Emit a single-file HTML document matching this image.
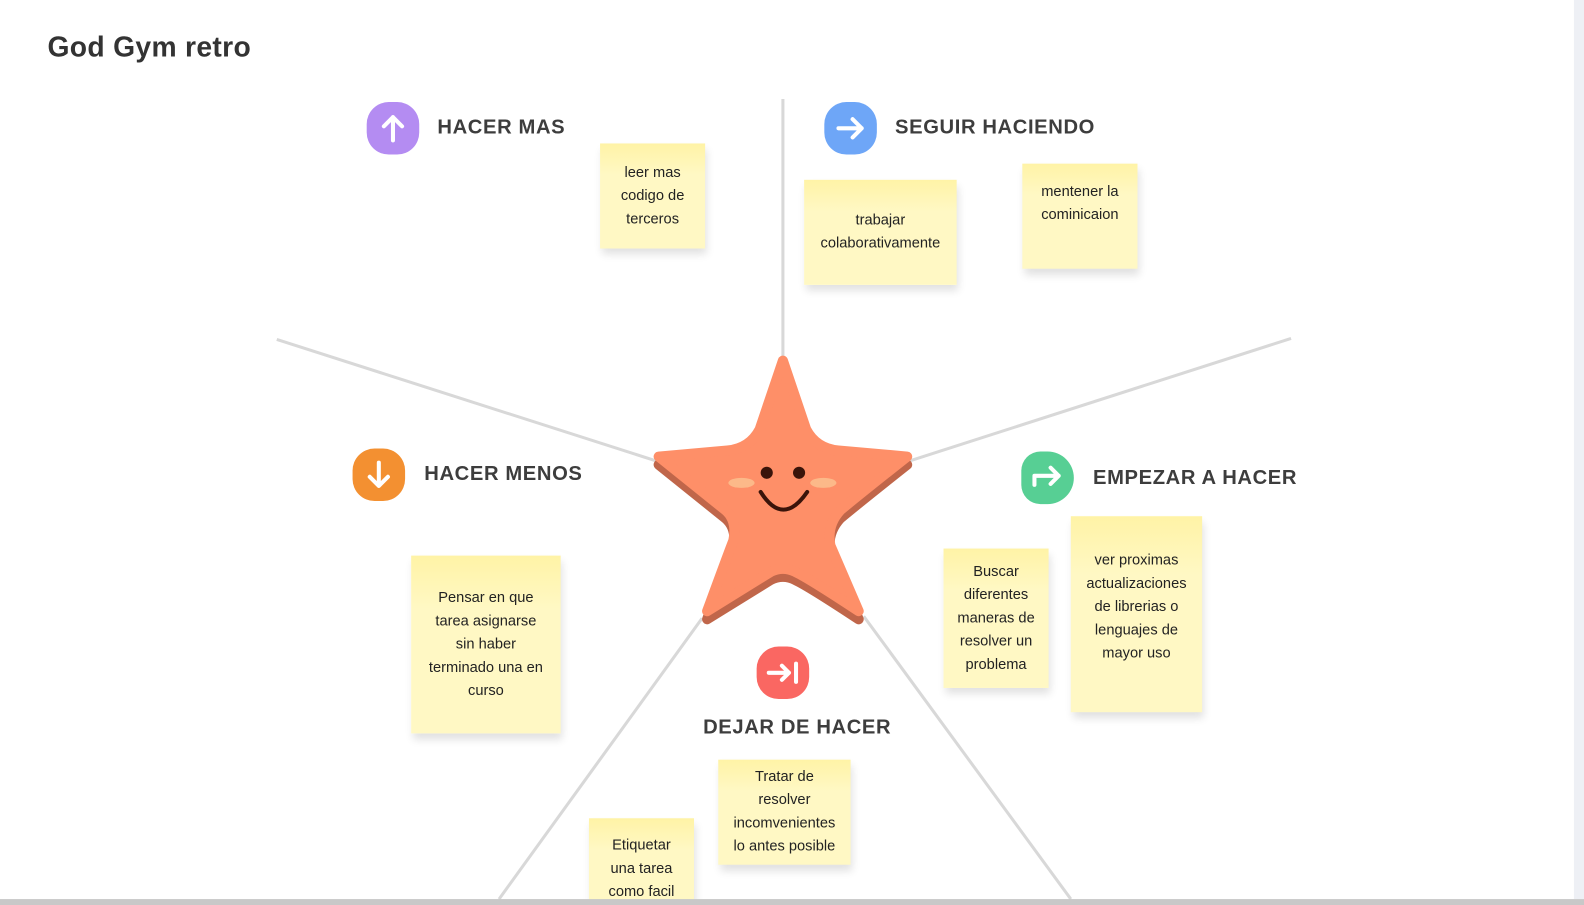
<!DOCTYPE html>
<html><head><meta charset="utf-8">
<style>
html,body{margin:0;padding:0;width:1584px;height:905px;overflow:hidden;background:#fff;font-family:"Liberation Sans","DejaVu Sans",sans-serif}
#wrap{position:absolute;left:0;top:0;width:1568px;height:896px;overflow:hidden;transform:scale(1.0102);transform-origin:0 0}
.title{position:absolute;left:47px;top:31px;font-size:28px;font-weight:bold;color:#333;letter-spacing:0.3px}
.hdr{position:absolute;font-size:20px;font-weight:bold;color:#3d3d3d;letter-spacing:0.6px}
.icon{position:absolute;width:52px;height:52px;border-radius:42%}
.note{position:absolute;background:linear-gradient(#fff3a6,#fff8c4 30%,#fff8c4);box-shadow:2px 6px 8px rgba(0,0,0,0.12);display:flex;align-items:center;justify-content:center;text-align:center;font-size:14.5px;line-height:23px;color:#222;box-sizing:border-box;padding:6px 10px}
</style></head><body>
<div id="wrap">
<div class="title">God Gym retro</div>

<svg width="1568" height="896" style="position:absolute;left:0;top:0">
  <g stroke="#d8d8d8" stroke-width="3" fill="none">
    <line x1="775" y1="98" x2="775" y2="360"/>
    <line x1="274" y1="336" x2="655" y2="458"/>
    <line x1="1278" y1="335" x2="895" y2="458"/>
    <line x1="695" y1="612" x2="494" y2="890"/>
    <line x1="855" y1="610" x2="1060" y2="890"/>
  </g>
  <g>
    <path transform="translate(0,8)" fill="#c0664a" stroke="#c0664a" stroke-width="10" stroke-linejoin="round"
      d="M775 357 Q788 395 798 425 Q808 444 830 446 L898 452 Q850 490 832 505 Q818 520 822 540 L850 605 Q800 572 787 566 Q775 560 763 566 L700 605 Q722 545 726 535 Q730 515 718 505 L652 452 L720 446 Q742 444 752 425 Z"/>
    <path fill="#fe8f68" stroke="#fe8f68" stroke-width="10" stroke-linejoin="round"
      d="M775 357 Q788 395 798 425 Q808 444 830 446 L898 452 Q850 490 832 505 Q818 520 822 540 L850 605 Q800 572 787 566 Q775 560 763 566 L700 605 Q722 545 726 535 Q730 515 718 505 L652 452 L720 446 Q742 444 752 425 Z"/>
    <ellipse cx="734" cy="478" rx="13" ry="5" fill="#fcb989"/>
    <ellipse cx="815" cy="478" rx="13" ry="5" fill="#fcb989"/>
    <circle cx="759" cy="468" r="6" fill="#3a140a"/>
    <circle cx="791" cy="468" r="6" fill="#3a140a"/>
    <path d="M753 487 Q775 522 799 487" stroke="#3a140a" stroke-width="4" fill="none" stroke-linecap="round"/>
  </g>
</svg>

<div class="icon" style="left:363px;top:101px;background:#b48cf2">
  <svg width="52" height="52"><path d="M26 38 V15 M17 24 L26 15 L35 24" stroke="#fff" stroke-width="4" fill="none" stroke-linecap="round" stroke-linejoin="round"/></svg></div>
<div class="hdr" style="left:433px;top:115px">HACER MAS</div>

<div class="icon" style="left:816px;top:101px;background:#6ea6f7">
  <svg width="52" height="52"><path d="M14 26 H37 M28 17 L37 26 L28 35" stroke="#fff" stroke-width="4" fill="none" stroke-linecap="round" stroke-linejoin="round"/></svg></div>
<div class="hdr" style="left:886px;top:115px">SEGUIR HACIENDO</div>

<div class="icon" style="left:349px;top:444px;background:#f39031">
  <svg width="52" height="52"><path d="M26 14 V37 M17 28 L26 37 L35 28" stroke="#fff" stroke-width="4" fill="none" stroke-linecap="round" stroke-linejoin="round"/></svg></div>
<div class="hdr" style="left:420px;top:458px">HACER MENOS</div>

<div class="icon" style="left:1011px;top:447px;background:#57cf94;border-radius:40% 55% 55% 40%">
  <svg width="52" height="52"><path d="M13 33 V24 H37 M29 16 L37 24 L29 32" stroke="#fff" stroke-width="4" fill="none" stroke-linecap="round" stroke-linejoin="round"/></svg></div>
<div class="hdr" style="left:1082px;top:462px">EMPEZAR A HACER</div>

<div class="icon" style="left:749px;top:640px;background:#fa6762">
  <svg width="52" height="52"><path d="M12 26 H32 M25 19 L32 26 L25 33 M39 17 V35" stroke="#fff" stroke-width="4" fill="none" stroke-linecap="round" stroke-linejoin="round"/></svg></div>
<div class="hdr" style="left:696px;top:709px">DEJAR DE HACER</div>

<div class="note" style="left:594px;top:142px;width:104px;height:104px">leer mas codigo de terceros</div>
<div class="note" style="left:796px;top:178px;width:151px;height:104px">trabajar colaborativamente</div>
<div class="note" style="left:1012px;top:162px;width:114px;height:104px;padding-bottom:30px">mentener la cominicaion</div>
<div class="note" style="left:407px;top:550px;width:148px;height:176px;padding:6px 16px">Pensar en que tarea asignarse sin haber terminado una en curso</div>
<div class="note" style="left:934px;top:543px;width:104px;height:138px">Buscar diferentes maneras de resolver un problema</div>
<div class="note" style="left:1060px;top:511px;width:130px;height:194px;padding-bottom:20px">ver proximas actualizaciones de librerias o lenguajes de mayor uso</div>
<div class="note" style="left:711px;top:752px;width:131px;height:104px">Tratar de resolver incomvenientes lo antes posible</div>
<div class="note" style="left:583px;top:810px;width:104px;height:104px;align-items:flex-start;padding-top:16px">Etiquetar una tarea como facil</div>

<div style="position:absolute;left:1558px;top:0;width:26px;height:890px;background:#eef0f5"></div>
<div style="position:absolute;left:0;top:890px;width:1584px;height:6px;background:#c8c8c8"></div>
</div>
</body></html>
